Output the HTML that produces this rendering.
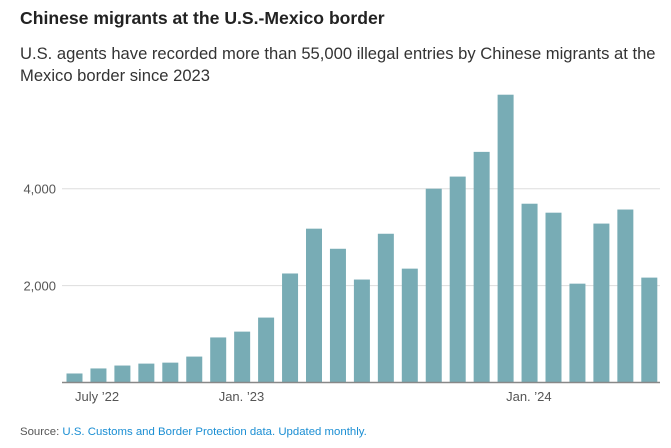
<!DOCTYPE html>
<html><head><meta charset="utf-8"><style>
body{margin:0;background:#fff;width:671px;height:448px;overflow:hidden;font-family:"Liberation Sans",sans-serif;position:relative}
#title{position:absolute;left:20px;top:8px;font-size:17.6px;font-weight:bold;color:#222}
#sub{position:absolute;left:20px;top:43px;width:660px;font-size:16.6px;line-height:22px;color:#333;white-space:nowrap}
#src{position:absolute;left:20px;top:426px;font-size:11.4px;color:#555}
#src span{color:#1a8ed3}
svg{position:absolute;left:0;top:0}
</style></head><body>
<div id="title">Chinese migrants at the U.S.-Mexico border</div>
<div id="sub">U.S. agents have recorded more than 55,000 illegal entries by Chinese migrants at the<br>Mexico border since 2023</div>
<svg id="chart" width="671" height="448"></svg>
<div id="src">Source: <span>U.S. Customs and Border Protection data. Updated monthly.</span></div>
<script>
const months=["Jul 22","Aug 22","Sep 22","Oct 22","Nov 22","Dec 22","Jan 23","Feb 23","Mar 23","Apr 23","May 23","Jun 23","Jul 23","Aug 23","Sep 23","Oct 23","Nov 23","Dec 23","Jan 24","Feb 24","Mar 24","Apr 24","May 24","Jun 24","Jul 24"];
const values=[186,290,350,390,410,535,930,1050,1340,2250,3175,2760,2125,3070,2350,4000,4250,4760,5940,3690,3505,2040,3280,3570,2165];
const yTicks=[2000,4000];
const yTickLabels=["2,000","4,000"];
const xLabelIdx=[0,6,18];
const xLabels=["July \u201922","Jan. \u201923","Jan. \u201924"];
const NS="http://www.w3.org/2000/svg";
const svg=document.getElementById('chart');
const y=v=>382.5-v*0.04845;
const x=i=>74.5+i*23.95;
function mk(t,a){const e=document.createElementNS(NS,t);for(const k in a)e.setAttribute(k,a[k]);svg.appendChild(e);return e;}
yTicks.forEach((t,i)=>{
 const l=mk('line',{x1:62,x2:660,y1:y(t),y2:y(t),stroke:'#ddd','stroke-width':1});
 
 
 const tx=mk('text',{x:56,y:y(t)+5,'text-anchor':'end','font-size':13,fill:'#555','font-family':'Liberation Sans, sans-serif'});
 tx.textContent=yTickLabels[i];
 
 
});
values.forEach((v,i)=>{
 const r=mk('rect',{x:x(i)-8,y:y(v),width:16,height:382.5-y(v),fill:'#78acb5'});
 
 
});
const ax=mk('line',{x1:62,x2:660,y1:382.5,y2:382.5,stroke:'#888','stroke-width':1.5});


xLabelIdx.forEach((idx,i)=>{
 const tx=mk('text',{x:x(idx)+0.5,y:401,'text-anchor':'start','font-size':13,fill:'#555','font-family':'Liberation Sans, sans-serif'});
 tx.textContent=xLabels[i];
 
 
});
</script>
</body></html>
